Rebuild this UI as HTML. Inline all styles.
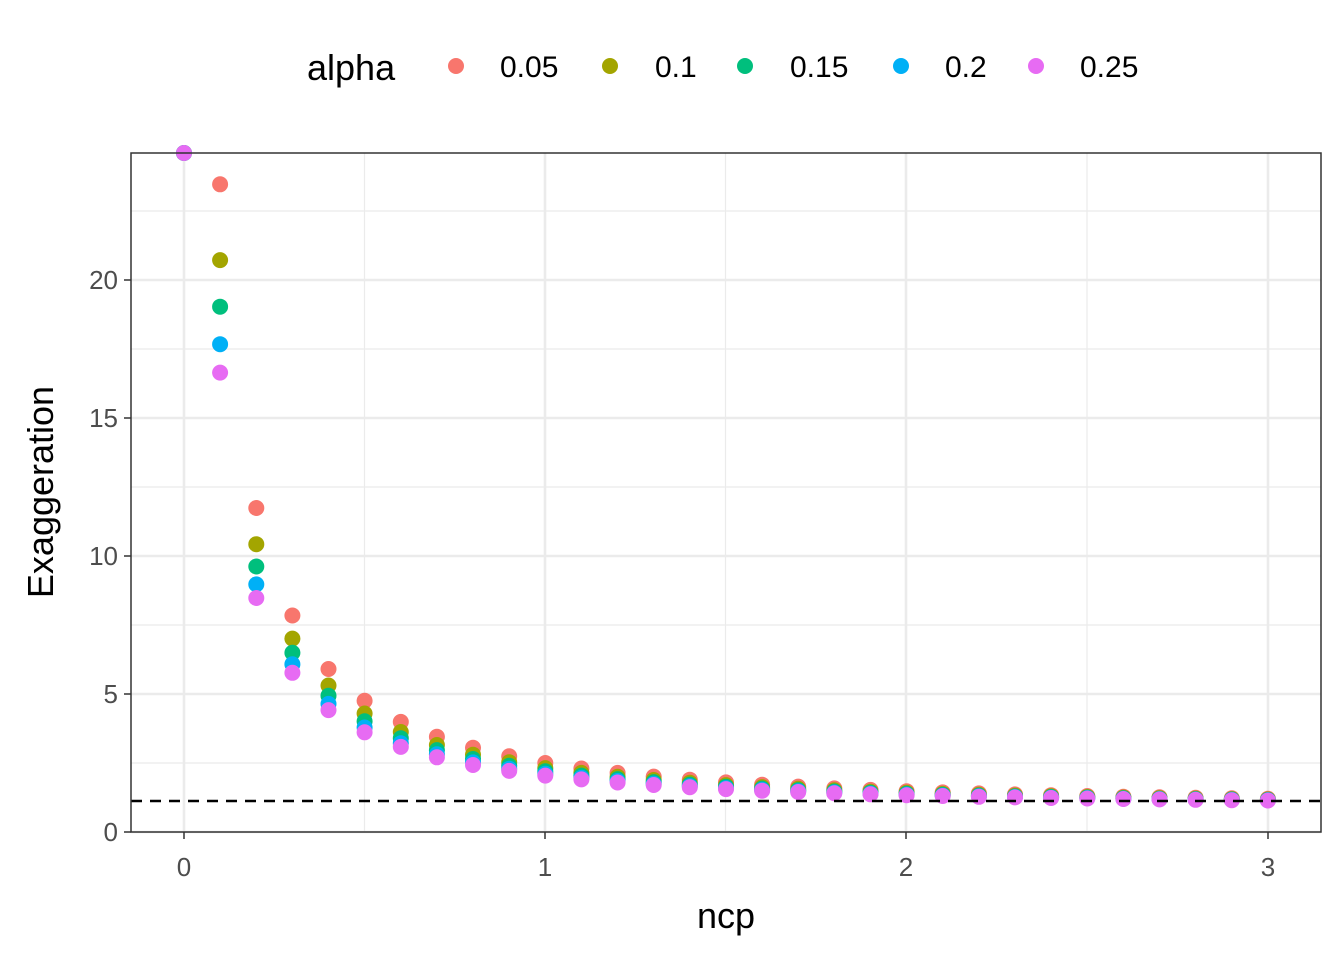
<!DOCTYPE html>
<html><head><meta charset="utf-8"><style>body{margin:0;background:#fff}svg{display:block}</style></head>
<body>
<svg id="s" width="1344" height="960" xmlns="http://www.w3.org/2000/svg" font-family="Liberation Sans, sans-serif">
<rect width="1344" height="960" fill="#fff"/>
<g stroke="#EBEBEB" stroke-width="1.2">
<line x1="364.5" y1="153" x2="364.5" y2="832"/><line x1="725.5" y1="153" x2="725.5" y2="832"/><line x1="1087" y1="153" x2="1087" y2="832"/>
<line x1="131" y1="211" x2="1321" y2="211"/><line x1="131" y1="349" x2="1321" y2="349"/><line x1="131" y1="487" x2="1321" y2="487"/><line x1="131" y1="625" x2="1321" y2="625"/><line x1="131" y1="763" x2="1321" y2="763"/>
</g>
<g stroke="#EBEBEB" stroke-width="2.6">
<line x1="184" y1="153" x2="184" y2="832"/><line x1="545" y1="153" x2="545" y2="832"/><line x1="906" y1="153" x2="906" y2="832"/><line x1="1268" y1="153" x2="1268" y2="832"/>
<line x1="131" y1="280" x2="1321" y2="280"/><line x1="131" y1="418" x2="1321" y2="418"/><line x1="131" y1="556" x2="1321" y2="556"/><line x1="131" y1="694" x2="1321" y2="694"/><line x1="131" y1="832" x2="1321" y2="832"/>
</g>
<g id="pts"></g>
<line x1="131" y1="801" x2="1321" y2="801" stroke="#000" stroke-width="2.5" stroke-dasharray="11,8"/>
<rect x="131" y="153" width="1190" height="679" fill="none" stroke="#333" stroke-width="1.5"/>
<g stroke="#333" stroke-width="1.5">
<line x1="124" y1="280" x2="131" y2="280"/><line x1="124" y1="418" x2="131" y2="418"/><line x1="124" y1="556" x2="131" y2="556"/><line x1="124" y1="694" x2="131" y2="694"/><line x1="124" y1="832" x2="131" y2="832"/>
<line x1="184" y1="832" x2="184" y2="839"/><line x1="545" y1="832" x2="545" y2="839"/><line x1="906" y1="832" x2="906" y2="839"/><line x1="1268" y1="832" x2="1268" y2="839"/>
</g>
<g fill="#4D4D4D" font-size="26" text-anchor="end">
<text x="118" y="289">20</text><text x="118" y="427">15</text><text x="118" y="565">10</text><text x="118" y="703">5</text><text x="118" y="841">0</text>
</g>
<g fill="#4D4D4D" font-size="26" text-anchor="middle">
<text x="184" y="876">0</text><text x="545" y="876">1</text><text x="906" y="876">2</text><text x="1268" y="876">3</text>
</g>
<text x="726" y="928" font-size="36" text-anchor="middle">ncp</text>
<text transform="translate(53,492) rotate(-90)" font-size="36" text-anchor="middle">Exaggeration</text>
<text x="307" y="80" font-size="36">alpha</text>
<g font-size="30">
<circle cx="456" cy="66" r="8" fill="#F8766D"/><text x="500" y="77">0.05</text>
<circle cx="610" cy="66" r="8" fill="#A3A500"/><text x="655" y="77">0.1</text>
<circle cx="745" cy="66" r="8" fill="#00BF7D"/><text x="790" y="77">0.15</text>
<circle cx="901" cy="66" r="8" fill="#00B0F6"/><text x="945" y="77">0.2</text>
<circle cx="1036" cy="66" r="8" fill="#E76BF3"/><text x="1080" y="77">0.25</text>
</g>
</svg>
<script>
var cols=["#F8766D","#A3A500","#00BF7D","#00B0F6","#E76BF3"];
var r=[22.5,19.75,18.06,16.7,15.67];
var g=document.getElementById("pts"),h="";
for(var a=0;a<5;a++){var k=2.35*r[a]/22.5;
 for(var i=0;i<=30;i++){var n=i/10,y;
  if(i==0)y=153;else{var E=1+k/n*Math.exp(-0.45*n);y=832-27.6*E;if(y<153)y=153;}
  var x=184+361.3*n;
  h+='<circle cx="'+x.toFixed(1)+'" cy="'+y.toFixed(1)+'" r="8" fill="'+cols[a]+'"/>';}}
g.innerHTML=h;
</script>
</body></html>
